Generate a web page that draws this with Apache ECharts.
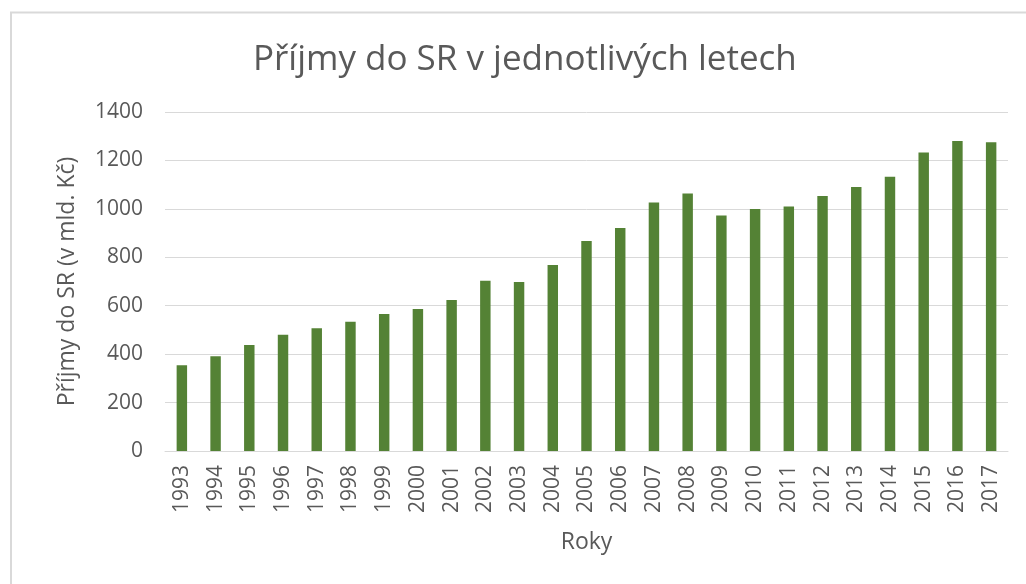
<!DOCTYPE html>
<html>
<head>
<meta charset="utf-8">
<script src="https://cdn.jsdelivr.net/npm/echarts@6/dist/echarts.min.js"></script>
<style>
  html, body { margin: 0; padding: 0; background: #fff; }
  #main { width: 1026px; height: 584px; }
</style>
</head>
<body>
<div id="main"></div>
<script>
// roky a prijmy (mld. Kc)
var years = ['1993','1994','1995','1996','1997','1998','1999','2000','2001','2002','2003','2004','2005',
             '2006','2007','2008','2009','2010','2011','2012','2013','2014','2015','2016','2017'];
var incomes = [354, 391, 438, 480, 507, 534, 566, 586, 624, 703, 698, 768, 867,
               921, 1026, 1063, 973, 999, 1010, 1053, 1090, 1133, 1233, 1280, 1275];
var yTicks = [0, 200, 400, 600, 800, 1000, 1200, 1400];

var font = '"Open Sans", sans-serif';
var grey = '#595959';

var chart = echarts.init(document.getElementById('main'));
var option = {
    animation: false,
    title: {
        text: 'Příjmy do SR v jednotlivých letech',
        left: 248,
        top: 38,
        textStyle: { fontFamily: font, fontSize: 35, fontWeight: 'normal', color: grey }
    },
    graphic: [{
        type: 'polyline',
        shape: { points: [[11, 600], [11, 12.5], [1040, 12.5]] },
        style: { stroke: '#d9d9d9', lineWidth: 2, fill: null },
        silent: true
    }],
    grid: { left: 165, right: 18, top: 112, bottom: 133 },
    xAxis: {
        type: 'category',
        data: years,
        name: 'Roky',
        nameLocation: 'middle',
        nameGap: 80,
        nameTextStyle: { fontFamily: font, fontSize: 23, color: grey },
        axisLine: { lineStyle: { color: '#d9d9d9', width: 1 } },
        axisTick: { show: false },
        axisLabel: { rotate: 90, margin: 14, fontFamily: font, fontSize: 21, color: grey, interval: 0 }
    },
    yAxis: {
        type: 'value',
        min: yTicks[0],
        max: yTicks[yTicks.length - 1],
        interval: yTicks[1] - yTicks[0],
        name: 'Příjmy do SR (v mld. Kč)',
        nameLocation: 'middle',
        nameGap: 86,
        nameTextStyle: { fontFamily: font, fontSize: 23, color: grey },
        axisLine: { show: false },
        axisTick: { show: false },
        axisLabel: { margin: 22, fontFamily: font, fontSize: 21, color: grey, formatter: function (v) { return String(v); } },
        splitLine: { lineStyle: { color: '#d9d9d9', width: 1 } }
    },
    series: [{
        type: 'bar',
        data: incomes,
        barWidth: '31%',
        itemStyle: { color: '#548235' }
    }]
};
chart.setOption(option);
</script>
</body>
</html>
